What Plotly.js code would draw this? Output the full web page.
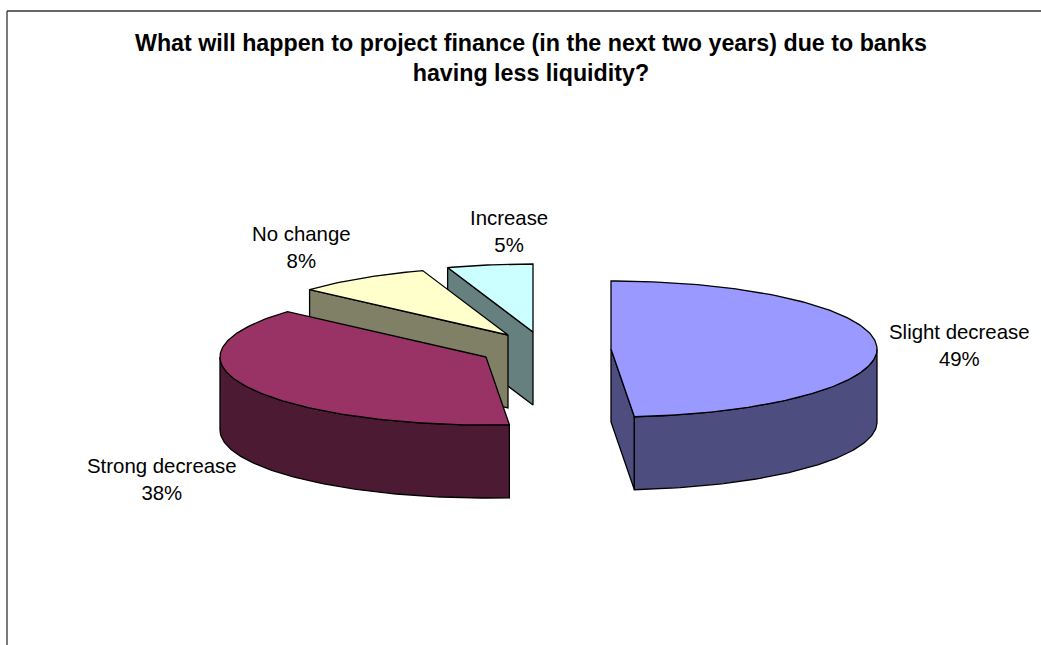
<!DOCTYPE html>
<html><head><meta charset="utf-8">
<script src="https://cdn.plot.ly/plotly-3.0.1.min.js"></script>
<style>html,body{margin:0;padding:0;background:#fff}#c{width:1041px;height:645px}</style>
</head><body><div id="c"></div>
<script>
const categories = ["Slight decrease","Strong decrease","No change","Increase"];
const shares = [48.6, 38.0, 8.2, 5.2];
const percents = [49, 38, 8, 5];
const topColors = ["#9999FF","#993366","#FFFFCC","#CCFFFF"];
const wallColors = ["#4D4D80","#4D1A33","#808066","#668080"];
const apexX = [611, 486, 508, 533];
const apexY = [349, 357, 335, 332];
const labelX = [959, 162, 301, 509];
const labelY = [345, 479, 247, 231];
const RX = 266, RY = 68, DEPTH = 73;
const OUT = "#000000";

const rad = d => d*Math.PI/180;
const pt = (i,a,dz=0) => [apexX[i]+RX*Math.sin(rad(a)), apexY[i]-RY*Math.cos(rad(a))+dz];
function arcPts(i,a0,a1,dz=0){const p=[];const n=Math.max(2,Math.ceil(Math.abs(a1-a0)));
  for(let k=0;k<=n;k++)p.push(pt(i,a0+(a1-a0)*k/n,dz));return p;}
function poly(points,fill){points=points.concat([points[0]]);
  return {type:"scatter",mode:"lines",x:points.map(p=>p[0]),y:points.map(p=>p[1]),fill:"toself",fillcolor:fill,
    line:{color:OUT,width:1.3},hoverinfo:"skip",showlegend:false};}

let cum=0; const ranges=shares.map(s=>{const r=[cum*3.6,(cum+s)*3.6];cum+=s;return r;});
const traces=[];
const apexPt=i=>[apexX[i],apexY[i]], apexLow=i=>[apexX[i],apexY[i]+DEPTH];
function radialFace(i,a){const p=pt(i,a),q=pt(i,a,DEPTH);return [apexPt(i),p,q,apexLow(i)];}
function wallFace(i,a0,a1){return arcPts(i,a0,a1).concat(arcPts(i,a1,a0,DEPTH));}
function topFace(i){const [a0,a1]=ranges[i];return [apexPt(i)].concat(arcPts(i,a0,a1));}

// back to front: Increase, No change, Strong decrease, Slight decrease
traces.push(poly(radialFace(3,ranges[3][0]),wallColors[3]));
traces.push(poly(topFace(3),topColors[3]));
traces.push(poly(radialFace(2,ranges[2][0]),wallColors[2]));
traces.push(poly(topFace(2),topColors[2]));
traces.push(poly(wallFace(1,ranges[1][0],270),wallColors[1]));
traces.push(poly(topFace(1),topColors[1]));
traces.push(poly(radialFace(0,ranges[0][1]),wallColors[0]));
traces.push(poly(wallFace(0,90,ranges[0][1]),wallColors[0]));
traces.push(poly(topFace(0),topColors[0]));

const annotations=categories.map((c,i)=>({xref:"x",yref:"y",x:labelX[i],y:labelY[i],text:c+"<br>"+percents[i]+"%",
  showarrow:false,xanchor:"center",yanchor:"middle",align:"center",font:{family:"Liberation Sans, Arial, sans-serif",size:20.4,color:"#000"}}));

const layout={width:1041,height:645,margin:{l:0,r:0,t:0,b:0},paper_bgcolor:"#fff",plot_bgcolor:"#fff",showlegend:false,
  xaxis:{range:[0,1041],visible:false,fixedrange:true},
  yaxis:{range:[645,0],visible:false,fixedrange:true},
  title:{text:"<b>What will happen to project finance (in the next two years) due to banks<br>having less liquidity?</b>",
    x:0.51,xanchor:"center",y:0.9216,yanchor:"middle",font:{family:"Liberation Sans, Arial, sans-serif",size:23.25,color:"#000"}},
  annotations,
  shapes:[
   {type:"line",xref:"x",yref:"y",x0:7,x1:7,y0:11,y1:645,line:{color:"#333",width:1.3}},
   {type:"line",xref:"x",yref:"y",x0:7,x1:1041,y0:11,y1:11,line:{color:"#333",width:1.3}}
  ]};
Plotly.newPlot("c",traces,layout,{displayModeBar:false,staticPlot:true});
</script></body></html>
